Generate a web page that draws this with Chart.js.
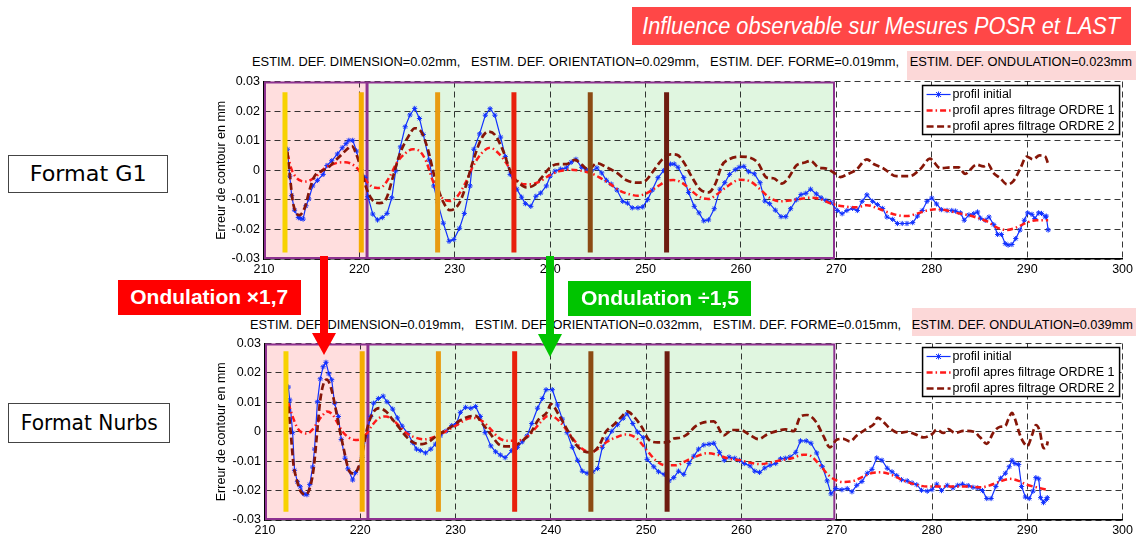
<!DOCTYPE html>
<html>
<head>
<meta charset="utf-8">
<script src="https://cdn.jsdelivr.net/npm/chart.js@4.4.0/dist/chart.umd.min.js"></script>
<style>
    body { margin: 0; width: 1136px; height: 536px; position: relative; overflow: hidden; background: #fff; font-family: "Liberation Sans", Arial, sans-serif; }
    .abs { position: absolute; }
    .box { position: absolute; display: flex; align-items: center; justify-content: center; white-space: nowrap; }
    .fit { display: inline-block; white-space: pre; transform-origin: left center; }
    .tline { position: absolute; font-size: 12.5px; color: #000; white-space: pre; transform-origin: left center; }
    .hl { position: absolute; background: #fcd8d8; }
    .shaft { position: absolute; width: 8px; }
    .head { position: absolute; width: 0; height: 0; border-left: 12px solid transparent; border-right: 12px solid transparent; }
</style>
</head>
<body>

<div class="hl" style="left:907px;top:51px;width:229px;height:29px"></div>
<div class="hl" style="left:912px;top:308px;width:224px;height:28px"></div>

<div class="abs" style="left:205px;top:70px"><canvas id="chartG1" width="931" height="211"></canvas></div>
<div class="abs" style="left:205px;top:332px"><canvas id="chartNurbs" width="931" height="210"></canvas></div>

<div id="titleG1" class="tline" style="left:252px;top:55px">ESTIM. DEF. DIMENSION=0.02mm,   ESTIM. DEF. ORIENTATION=0.029mm,   ESTIM. DEF. FORME=0.019mm,   ESTIM. DEF. ONDULATION=0.023mm</div>
<div id="titleNurbs" class="tline" style="left:250px;top:318px">ESTIM. DEF. DIMENSION=0.019mm,   ESTIM. DEF. ORIENTATION=0.032mm,   ESTIM. DEF. FORME=0.015mm,   ESTIM. DEF. ONDULATION=0.039mm</div>

<div class="box" style="left:632px;top:7px;width:499px;height:38px;background:#ff4747">
    <span id="bigTitle" class="fit" style="color:#fff;font-style:italic;font-size:24px;transform-origin:center center">Influence observable sur Mesures POSR et LAST</span>
</div>

<div class="box" style="left:8px;top:155px;width:158px;height:36px;border:1px solid #444">
    <span id="fmtG1" class="fit" style="font-family:'DejaVu Sans';font-size:21px;transform-origin:center center">Format G1</span>
</div>
<div class="box" style="left:8px;top:403px;width:160px;height:38px;border:1px solid #444">
    <span id="fmtNurbs" class="fit" style="font-family:'DejaVu Sans';font-size:21px;transform-origin:center center">Format Nurbs</span>
</div>

<div class="box" style="left:118px;top:280px;width:183px;height:35px;background:#ff0000">
    <span id="ondRed" class="fit" style="color:#fff;font-weight:bold;font-size:20px;transform-origin:center center">Ondulation ×1,7</span>
</div>
<div class="box" style="left:568px;top:281px;width:183px;height:35px;background:#00c400">
    <span id="ondGreen" class="fit" style="color:#fff;font-weight:bold;font-size:20px;transform-origin:center center">Ondulation ÷1,5</span>
</div>

<div class="shaft" style="left:320px;top:256px;height:78px;background:#ff0000"></div>
<div class="head" style="left:312px;top:333px;border-top:22px solid #ff0000"></div>
<div class="shaft" style="left:546px;top:256px;height:79px;background:#00c400"></div>
<div class="head" style="left:538px;top:334px;border-top:23px solid #00c400"></div>

<script>
    // ---- data ----
    var xTicks = [210, 220, 230, 240, 250, 260, 270, 280, 290, 300];
    var yTicks = [-0.03, -0.02, -0.01, 0, 0.01, 0.02, 0.03];
    var legendLabels = ["profil initial", "profil apres filtrage ORDRE 1", "profil apres filtrage ORDRE 2"];

    // filter zones (pink, green) and the coloured markers
    var zoneEdges = [210, 220.75, 269.75];
    var markerX = [212.2, 220.2, 228.2, 236.2, 244.2, 252.2];

    // Format G1
    var g1Init = [[212.45,0.0071],[212.7,-0.002],[212.9,-0.0086],[213.2,-0.0135],[213.6,-0.016],[213.85,-0.0163],[214.1,-0.0165],[214.4,-0.012],[214.7,-0.0097],[215.1,-0.0053],[215.6,-0.0034],[216.2,-0.0014],[216.6,0.0016],[217.1,0.0032],[217.7,0.0055],[218.2,0.0076],[218.6,0.009],[218.9,0.0101],[219.3,0.0101],[219.7,0.0065],[220.2,0.0002],[220.6,-0.0025],[220.9,-0.0089],[221.4,-0.0148],[221.9,-0.0168],[222.4,-0.016],[222.9,-0.0146],[223.4,-0.0093],[223.8,-0.0003],[224.3,0.0079],[224.8,0.0147],[225.3,0.0187],[225.8,0.0209],[226.3,0.0175],[226.7,0.0121],[227.3,0.0035],[227.8,-0.0053],[228.2,-0.0108],[228.8,-0.0179],[229.4,-0.024],[229.9,-0.0234],[230.5,-0.0196],[231.0,-0.0146],[231.6,-0.0053],[232.0,0.0071],[232.6,0.0123],[233.2,0.0186],[233.7,0.0208],[234.2,0.0186],[234.8,0.0112],[235.3,0.0046],[235.8,-0.0014],[236.5,-0.0064],[237.0,-0.0091],[237.4,-0.0113],[237.97,-0.0122],[238.5,-0.0088],[239.0,-0.0077],[239.6,-0.0053],[240.0,-0.002],[240.5,-0.0003],[241.1,0.0004],[241.7,0.0008],[242.2,0.0027],[242.7,0.0037],[243.3,0.001],[243.8,0.0002],[244.3,-0.0003],[244.9,0.0008],[245.4,-0.0009],[245.9,-0.0034],[246.4,-0.0047],[247.0,-0.0067],[247.6,-0.0105],[248.1,-0.0111],[248.6,-0.0127],[249.2,-0.0127],[249.7,-0.0124],[250.2,-0.01],[250.7,-0.0067],[251.3,-0.0025],[251.9,-0.0001],[252.6,0.0021],[253.0,0.0021],[253.4,0.001],[254.0,-0.0025],[254.5,-0.0075],[255.1,-0.0122],[255.6,-0.0144],[256.1,-0.0171],[256.6,-0.0168],[257.2,-0.013],[257.8,-0.0064],[258.3,-0.0042],[258.8,-0.0014],[259.4,0.0002],[259.8,0.001],[260.3,0.0013],[260.8,-0.0005],[261.4,-0.0012],[262.0,-0.0042],[262.5,-0.0104],[263.0,-0.0113],[263.6,-0.0135],[264.2,-0.0157],[264.7,-0.0157],[265.2,-0.013],[265.8,-0.01],[266.3,-0.0082],[266.8,-0.0078],[267.3,-0.0064],[267.9,-0.008],[268.4,-0.0093],[268.9,-0.0102],[269.4,-0.0108],[270.1,-0.0136],[270.6,-0.0147],[271.1,-0.0136],[271.7,-0.0129],[272.2,-0.0136],[272.7,-0.0105],[273.2,-0.0083],[273.8,-0.0105],[274.3,-0.0116],[274.85,-0.0129],[275.3,-0.0158],[275.9,-0.0166],[276.4,-0.018],[276.9,-0.018],[277.4,-0.018],[278.0,-0.0177],[278.5,-0.0155],[279.0,-0.0136],[279.5,-0.0105],[280.0,-0.0094],[280.5,-0.0114],[281.0,-0.0133],[281.6,-0.0136],[282.1,-0.0136],[282.5,-0.0138],[283.0,-0.0144],[283.4,-0.0169],[283.9,-0.0151],[284.4,-0.0147],[284.8,-0.0141],[285.1,-0.0162],[285.6,-0.0169],[286.0,-0.0158],[286.5,-0.0184],[286.9,-0.0217],[287.3,-0.0217],[287.7,-0.0248],[288.0,-0.0253],[288.4,-0.0251],[288.8,-0.0231],[289.25,-0.0202],[289.7,-0.0169],[290.05,-0.0144],[290.5,-0.0149],[290.8,-0.0163],[291.2,-0.0144],[291.5,-0.0146],[291.9,-0.0158],[292.0,-0.0155],[292.2,-0.0202]];
    var g1Ord1 = [[212.45,0.0057],[212.9,0.0002],[213.4,-0.0025],[213.9,-0.0036],[214.4,-0.0038],[215.0,-0.0031],[215.7,-0.0014],[216.4,0.0008],[217.1,0.0019],[217.8,0.0026],[218.5,0.0027],[219.2,0.0021],[219.9,0.0002],[220.6,-0.0031],[221.3,-0.0055],[221.9,-0.006],[222.5,-0.0053],[223.2,-0.002],[223.9,0.0024],[224.8,0.0057],[225.6,0.0071],[226.3,0.0065],[227.0,0.003],[227.7,-0.0036],[228.6,-0.0091],[229.5,-0.0104],[230.2,-0.0091],[231.05,-0.0047],[231.9,0.0013],[232.8,0.0057],[233.7,0.0076],[234.5,0.006],[235.4,0.0024],[236.3,-0.0025],[237.2,-0.0047],[238.0,-0.0047],[238.9,-0.0038],[240.0,-0.0016],[241.0,-0.0003],[242.1,0.0002],[243.1,-0.0001],[244.2,-0.0009],[245.2,-0.0025],[246.3,-0.0047],[247.3,-0.0069],[248.4,-0.0082],[249.2,-0.0086],[250.1,-0.0078],[251.2,-0.0056],[252.2,-0.0036],[252.9,-0.0033],[253.8,-0.0042],[254.8,-0.0069],[255.7,-0.0091],[256.6,-0.0097],[257.45,-0.0082],[258.5,-0.0056],[259.9,-0.0032],[261.0,-0.0038],[262.0,-0.0064],[263.0,-0.0093],[264.1,-0.0105],[265.1,-0.0102],[266.2,-0.0097],[267.2,-0.0093],[268.3,-0.0097],[269.3,-0.0111],[270.7,-0.0122],[272.1,-0.0125],[273.2,-0.0118],[274.2,-0.0127],[275.3,-0.0141],[276.3,-0.0151],[277.4,-0.0155],[278.4,-0.0147],[279.5,-0.0136],[280.5,-0.0132],[281.6,-0.0136],[282.6,-0.0144],[283.7,-0.0151],[284.7,-0.016],[285.8,-0.0173],[286.8,-0.0193],[287.85,-0.0202],[288.9,-0.0193],[289.95,-0.0177],[291.0,-0.0169],[292.2,-0.0169]];
    var g1Ord2 = [[212.45,0.0063],[212.7,-0.0014],[213.0,-0.0102],[213.4,-0.0146],[213.7,-0.0152],[214.3,-0.0124],[214.8,-0.0064],[215.3,-0.002],[216.0,-0.0003],[216.7,0.0008],[217.4,0.003],[218.1,0.0052],[218.8,0.0074],[219.2,0.0082],[219.7,0.0052],[220.2,0.0002],[220.7,-0.0058],[221.4,-0.0102],[222.1,-0.0111],[222.8,-0.0097],[223.5,-0.0025],[224.2,0.0052],[225.1,0.0112],[225.8,0.0142],[226.5,0.0129],[227.2,0.0068],[227.9,-0.0025],[228.8,-0.0108],[229.5,-0.0135],[230.4,-0.0115],[231.05,-0.0064],[231.9,0.003],[232.8,0.0107],[233.5,0.0131],[234.2,0.012],[235.1,0.0063],[235.9,-0.0009],[236.8,-0.0045],[237.5,-0.0058],[238.4,-0.0049],[239.1,-0.0025],[240.0,0.001],[240.85,0.0021],[241.7,0.0021],[242.6,0.0035],[243.3,0.0019],[244.0,0.0002],[244.9,0.0024],[245.9,0.001],[247.0,-0.0009],[248.0,-0.0034],[249.1,-0.0042],[249.9,-0.0038],[250.8,-0.0003],[251.7,0.0035],[252.6,0.0054],[253.3,0.0052],[254.0,0.0027],[254.8,-0.002],[255.7,-0.0064],[256.6,-0.0075],[257.3,-0.0047],[258.0,0.0016],[258.8,0.0038],[259.9,0.0046],[260.9,0.0043],[261.8,0.0024],[262.7,-0.0025],[263.4,-0.0027],[264.3,-0.0045],[265.0,-0.0025],[265.8,0.0016],[266.7,0.0026],[267.3,0.0032],[268.1,0.001],[269.0,0.0005],[270.0,-0.0014],[270.4,-0.0023],[271.25,-0.0012],[272.1,0.0002],[273.2,0.0037],[273.9,0.0021],[274.9,0.0007],[276.3,-0.002],[277.7,-0.002],[278.8,0.0004],[279.8,0.0039],[280.9,0.0007],[282.1,0.001],[282.8,0.001],[283.5,-0.0012],[284.7,0.0019],[285.4,0.0013],[285.9,0.0021],[286.45,-0.0009],[287.15,-0.0026],[287.9,-0.0048],[288.55,-0.0037],[289.25,0.0004],[289.95,0.0046],[290.6,0.0037],[291.3,0.005],[291.9,0.0046],[292.2,0.0021]];

    // Format Nurbs
    var nbInit = [[212.45,0.0152],[212.6,0.0108],[212.9,-0.0003],[213.1,-0.0131],[213.4,-0.017],[213.7,-0.0187],[214.1,-0.0212],[214.4,-0.0214],[214.7,-0.0179],[215.0,-0.012],[215.2,-0.0059],[215.5,0.0102],[215.8,0.018],[216.1,0.0221],[216.4,0.0236],[216.7,0.0197],[217.0,0.0177],[217.3,0.0097],[217.7,0.0052],[218.0,-0.0026],[218.4,-0.009],[218.7,-0.0126],[219.2,-0.0164],[219.5,-0.0139],[219.9,-0.0123],[220.2,-0.0087],[220.6,-0.0014],[221.1,0.0052],[221.4,0.0097],[221.9,0.0113],[222.4,0.0121],[222.8,0.0102],[223.4,0.0077],[223.9,0.0047],[224.4,0.0019],[225.0,-0.0006],[225.5,-0.0037],[225.9,-0.0059],[226.3,-0.0064],[226.85,-0.0072],[227.4,-0.0059],[227.9,-0.0042],[228.4,-0.0014],[229.0,0.0002],[229.6,0.0021],[230.1,0.0028],[230.5,0.0066],[231.05,0.0083],[231.6,0.008],[232.1,0.0086],[232.6,0.0052],[233.1,-0.0003],[233.7,-0.0048],[234.2,-0.0068],[234.7,-0.0079],[235.2,-0.0088],[235.9,-0.0064],[236.5,-0.0053],[237.0,-0.0034],[237.5,-0.0014],[238.0,0.0028],[238.6,0.008],[239.1,0.0113],[239.5,0.0143],[240.15,0.0143],[240.7,0.0091],[241.2,0.0043],[241.7,-0.0003],[242.25,-0.0053],[242.8,-0.0097],[243.3,-0.0134],[243.8,-0.0141],[244.4,-0.0136],[244.9,-0.0125],[245.4,-0.0053],[245.9,-0.0025],[246.4,0.0002],[247.0,0.0024],[247.6,0.0046],[248.0,0.0061],[248.6,0.0028],[249.1,-0.0001],[249.7,-0.002],[250.1,-0.0094],[250.8,-0.0119],[251.3,-0.0136],[251.9,-0.0145],[252.4,-0.0167],[252.9,-0.0156],[253.4,-0.0134],[253.95,-0.0145],[254.5,-0.0108],[255.0,-0.0083],[255.5,-0.0059],[256.05,-0.0045],[256.6,-0.0042],[257.1,-0.0039],[257.7,-0.007],[258.2,-0.0097],[258.7,-0.0086],[259.3,-0.009],[259.8,-0.0097],[260.3,-0.0108],[260.9,-0.0116],[261.4,-0.0134],[261.9,-0.0138],[262.45,-0.0123],[263.0,-0.0114],[263.6,-0.0108],[264.1,-0.0092],[264.6,-0.009],[265.1,-0.0086],[265.7,-0.007],[266.2,-0.0031],[266.8,-0.0031],[267.3,-0.0039],[267.9,-0.0072],[268.5,-0.0119],[269.0,-0.0167],[269.4,-0.0211],[269.9,-0.0193],[270.55,-0.0197],[271.1,-0.0193],[271.6,-0.0204],[272.1,-0.0182],[272.65,-0.0169],[273.2,-0.0141],[273.7,-0.0128],[274.2,-0.0089],[274.75,-0.0097],[275.3,-0.0124],[275.8,-0.0136],[276.3,-0.0149],[276.8,-0.0163],[277.4,-0.0167],[277.9,-0.0174],[278.4,-0.018],[278.9,-0.0199],[279.5,-0.0202],[280.0,-0.0197],[280.5,-0.0178],[281.0,-0.02],[281.6,-0.0182],[282.2,-0.0191],[282.7,-0.0182],[283.2,-0.0178],[283.8,-0.0183],[284.3,-0.0189],[284.8,-0.0191],[285.3,-0.02],[285.75,-0.0227],[286.2,-0.0227],[286.7,-0.0186],[287.2,-0.0158],[287.7,-0.0141],[288.1,-0.0119],[288.4,-0.0097],[288.7,-0.0108],[289.1,-0.0111],[289.4,-0.0186],[289.8,-0.0222],[290.2,-0.0227],[290.6,-0.0202],[290.9,-0.0156],[291.2,-0.016],[291.4,-0.0224],[291.7,-0.0241],[292.0,-0.023],[292.1,-0.0224]];
    var nbOrd1 = [[212.45,0.0097],[212.9,0.0052],[213.4,0.0013],[213.9,-0.0003],[214.4,-0.0006],[215.0,0.0008],[215.5,0.0032],[216.0,0.0054],[216.5,0.0069],[217.1,0.0058],[217.6,0.003],[218.1,0.0002],[218.8,-0.002],[219.5,-0.0028],[220.0,-0.0026],[220.6,-0.0009],[221.3,0.0024],[222.0,0.0047],[222.7,0.0052],[223.4,0.0041],[224.1,0.0019],[224.9,-0.0006],[225.8,-0.002],[226.7,-0.0026],[227.55,-0.002],[228.4,-0.0009],[229.3,0.0008],[230.2,0.0024],[231.05,0.0041],[231.9,0.0047],[232.8,0.0036],[233.7,0.0008],[234.5,-0.002],[235.4,-0.0031],[236.3,-0.0031],[237.2,-0.0023],[238.0,-0.0003],[238.9,0.0032],[239.7,0.0054],[240.3,0.0051],[241.0,0.0032],[242.1,-0.0014],[243.1,-0.0053],[244.2,-0.007],[245.05,-0.0056],[245.9,-0.0034],[247.0,-0.0017],[247.8,-0.0009],[248.9,-0.002],[249.9,-0.0056],[251.0,-0.0097],[252.0,-0.0114],[253.1,-0.0114],[254.3,-0.0097],[255.35,-0.0083],[256.4,-0.0073],[257.45,-0.0078],[258.5,-0.009],[259.9,-0.0097],[260.9,-0.0105],[262.0,-0.011],[263.0,-0.0105],[264.1,-0.0097],[265.3,-0.009],[266.5,-0.0078],[267.2,-0.0081],[268.3,-0.0116],[269.3,-0.0152],[270.7,-0.0171],[271.8,-0.0167],[272.8,-0.0152],[273.9,-0.0139],[274.75,-0.0138],[275.8,-0.0147],[276.8,-0.0163],[278.1,-0.0178],[279.5,-0.0186],[280.9,-0.0186],[282.3,-0.0186],[283.7,-0.0186],[285.1,-0.0189],[286.1,-0.0182],[287.15,-0.0169],[288.2,-0.016],[289.1,-0.0167],[289.95,-0.018],[291.0,-0.0189],[292.05,-0.0197]];
    var nbOrd2 = [[212.45,0.0086],[212.7,-0.0003],[213.0,-0.0114],[213.3,-0.0159],[213.7,-0.0201],[214.3,-0.0214],[214.7,-0.0192],[215.1,-0.0126],[215.5,0.0008],[215.8,0.0108],[216.3,0.0174],[216.5,0.0177],[216.9,0.0152],[217.3,0.0097],[217.8,0.0013],[218.3,-0.0064],[218.8,-0.0131],[219.3,-0.0142],[219.9,-0.0114],[220.3,-0.0059],[220.7,0.0008],[221.3,0.0063],[222.0,0.008],[222.7,0.0069],[223.4,0.0041],[224.1,0.0013],[224.75,-0.0014],[225.6,-0.0037],[226.5,-0.0042],[227.2,-0.0034],[227.9,-0.0017],[228.8,0.0002],[229.65,0.0019],[230.5,0.0039],[231.4,0.0052],[232.1,0.0054],[232.8,0.0028],[233.7,-0.0009],[234.5,-0.0042],[235.4,-0.005],[236.3,-0.0046],[237.2,-0.0026],[237.9,-0.0003],[238.7,0.0041],[239.6,0.0066],[240.0,0.0094],[240.85,0.0057],[241.7,0.0008],[242.6,-0.0042],[243.5,-0.0067],[244.2,-0.007],[245.05,-0.0048],[245.75,-0.0001],[246.6,0.0024],[247.5,0.0054],[248.0,0.0069],[248.7,0.0052],[249.6,0.0013],[250.3,-0.0028],[251.2,-0.0036],[252.2,-0.0036],[252.9,-0.0023],[253.6,-0.002],[254.3,-0.0009],[255.2,0.0019],[256.05,0.0032],[257.1,0.0035],[258.15,-0.0012],[259.0,0.0006],[259.9,0.0006],[260.8,-0.0009],[261.8,-0.0025],[262.7,-0.0009],[263.7,0.0002],[264.6,0.0008],[265.5,0.0002],[266.2,0.0052],[266.9,0.0057],[267.8,0.0035],[268.6,-0.0014],[269.3,-0.0053],[270.0,-0.0027],[270.7,-0.0024],[271.4,-0.0033],[272.1,-0.0013],[273.2,0.0011],[273.9,0.0026],[274.3,0.0048],[274.9,0.0033],[275.6,0.0011],[276.5,-0.0004],[277.4,0],[278.2,-0.0008],[279.1,-0.0019],[280.0,-0.0008],[280.5,0.0007],[281.2,-0.0004],[281.7,0.0009],[282.4,-0.0004],[283.3,0.0003],[284.4,0],[285.05,-0.0019],[285.75,-0.0041],[286.45,-0.0002],[287.15,0.0017],[287.7,0.002],[288.0,0.0042],[288.4,0.0064],[288.7,0.0044],[289.2,-0.0008],[289.6,-0.0036],[290.0,-0.0049],[290.5,-0.0011],[290.9,0.0023],[291.3,0.0003],[291.7,-0.0056],[292.0,-0.0052],[292.15,-0.0033]];

    // ---- styles ----
    var FONT = "'Liberation Sans', Arial, sans-serif";
    var zoneFills = ["#ffdede", "#e0f6e0"];
    var zoneBorder = "#8e3290";
    var markerColors = ["#f7d200", "#f5ad00", "#e89b12", "#e8200c", "#8c4b14", "#6e1c10"];
    var blue = "#1030ff", red = "#ff1a1a", darkRed = "#861608";

    Chart.defaults.font.family = FONT;
    Chart.defaults.font.size = 12.5;
    Chart.defaults.color = "#000";

    function toPoints(list) {
        return list.map(function (p) { return { x: p[0], y: p[1] }; });
    }

    var decorPlugin = {
        id: "decor",
        beforeDraw: function (chart) {
            var ctx = chart.ctx, a = chart.chartArea, xs = chart.scales.x;
            ctx.save();
            for (var i = 0; i < zoneFills.length; i++) {
                var l = xs.getPixelForValue(zoneEdges[i]), r = xs.getPixelForValue(zoneEdges[i + 1]);
                ctx.fillStyle = zoneFills[i];
                ctx.fillRect(l, a.top, r - l, a.bottom - a.top);
            }
            ctx.restore();
        },
        beforeDatasetsDraw: function (chart) {
            var ctx = chart.ctx, a = chart.chartArea, xs = chart.scales.x;
            ctx.save();
            ctx.strokeStyle = zoneBorder;
            ctx.lineWidth = 2;
            for (var i = 0; i < zoneFills.length; i++) {
                var l = xs.getPixelForValue(zoneEdges[i]), r = xs.getPixelForValue(zoneEdges[i + 1]);
                ctx.strokeRect(l + 1, a.top + 1, r - l - 1, a.bottom - a.top - 2);
            }
            ctx.restore();
        },
        afterDatasetsDraw: function (chart, args, opts) {
            var ctx = chart.ctx, xs = chart.scales.x, ys = chart.scales.y;
            ctx.save();
            ctx.lineWidth = 5;
            for (var i = 0; i < markerX.length; i++) {
                var px = xs.getPixelForValue(markerX[i]);
                ctx.strokeStyle = markerColors[i];
                ctx.beginPath();
                ctx.moveTo(px, ys.getPixelForValue(opts.barTop));
                ctx.lineTo(px, ys.getPixelForValue(opts.barBottom));
                ctx.stroke();
            }
            ctx.restore();
        },
        afterDraw: function (chart) {
            // legend box in the upper right corner of the axes
            var ctx = chart.ctx, a = chart.chartArea;
            var x0 = a.right - 200, y0 = a.top + 4, w = 197, h = 49;
            var styles = [
                { color: blue, width: 1.2, dash: [] },
                { color: red, width: 2.5, dash: [6, 3, 1.5, 3] },
                { color: darkRed, width: 2.6, dash: [7, 3.5] }
            ];
            ctx.save();
            ctx.fillStyle = "#fff";
            ctx.fillRect(x0, y0, w, h);
            ctx.strokeStyle = "#000";
            ctx.lineWidth = 1.5;
            ctx.strokeRect(x0, y0, w, h);
            ctx.font = "12.5px " + FONT;
            ctx.textBaseline = "middle";
            for (var i = 0; i < legendLabels.length; i++) {
                var yy = y0 + 9 + i * 16;
                var s = styles[i];
                ctx.setLineDash(s.dash);
                ctx.strokeStyle = s.color;
                ctx.lineWidth = s.width;
                ctx.beginPath();
                ctx.moveTo(x0 + 4, yy);
                ctx.lineTo(x0 + 28, yy);
                ctx.stroke();
                if (i === 0) {
                    ctx.setLineDash([]);
                    ctx.lineWidth = 1;
                    ctx.beginPath();
                    ctx.moveTo(x0 + 13.5, yy - 2.5); ctx.lineTo(x0 + 18.5, yy + 2.5);
                    ctx.moveTo(x0 + 13.5, yy + 2.5); ctx.lineTo(x0 + 18.5, yy - 2.5);
                    ctx.moveTo(x0 + 16, yy - 3); ctx.lineTo(x0 + 16, yy + 3);
                    ctx.stroke();
                }
                ctx.fillStyle = "#000";
                ctx.fillText(legendLabels[i], x0 + 30, yy + 0.5);
            }
            ctx.restore();
        }
    };

    function buildChart(canvasId, init, ord1, ord2, yAxisWidth, barTop, barBottom) {
        var canvas = document.getElementById(canvasId);
        return new Chart(canvas, {
            type: "line",
            data: {
                datasets: [{
                    label: legendLabels[0],
                    data: toPoints(init),
                    borderColor: blue,
                    backgroundColor: blue,
                    borderWidth: 1.2,
                    pointStyle: "star",
                    pointRadius: 2.6,
                    pointBorderWidth: 1,
                    pointBorderColor: blue,
                    tension: 0,
                    order: 3
                }, {
                    label: legendLabels[1],
                    data: toPoints(ord1),
                    borderColor: red,
                    borderWidth: 2.5,
                    borderDash: [6, 3, 1.5, 3],
                    pointRadius: 0,
                    cubicInterpolationMode: "monotone",
                    order: 2
                }, {
                    label: legendLabels[2],
                    data: toPoints(ord2),
                    borderColor: darkRed,
                    borderWidth: 2.7,
                    borderDash: [7, 3.5],
                    pointRadius: 0,
                    cubicInterpolationMode: "monotone",
                    order: 1
                }]
            },
            options: {
                responsive: false,
                animation: false,
                devicePixelRatio: 1,
                layout: { padding: { top: 7, right: 13, left: 0, bottom: 0 } },
                plugins: {
                    legend: { display: false },
                    tooltip: { enabled: false },
                    decor: { barTop: barTop, barBottom: barBottom }
                },
                scales: {
                    x: {
                        type: "linear",
                        min: xTicks[0],
                        max: xTicks[xTicks.length - 1],
                        afterBuildTicks: function (axis) {
                            axis.ticks = xTicks.map(function (v) { return { value: v }; });
                        },
                        afterFit: function (axis) { axis.height = 22; },
                        ticks: { padding: 3, maxRotation: 0, font: { size: 12.5 } },
                        grid: { color: "rgba(0,0,0,0.78)", lineWidth: 1, drawTicks: false },
                        border: { display: true, color: "#000", width: 1.5, dash: [6, 4] }
                    },
                    y: {
                        min: yTicks[0],
                        max: yTicks[yTicks.length - 1],
                        afterBuildTicks: function (axis) {
                            axis.ticks = yTicks.map(function (v) { return { value: v }; });
                        },
                        afterFit: function (axis) { axis.width = yAxisWidth; },
                        ticks: {
                            padding: 4,
                            font: { size: 12.5 },
                            callback: function (v) { return String(Math.round(v * 100) / 100); }
                        },
                        title: {
                            display: true,
                            text: "Erreur de contour en mm",
                            font: { size: 12.5 },
                            padding: { top: 9.5, bottom: 0 }
                        },
                        grid: { color: "rgba(0,0,0,0.78)", lineWidth: 1, drawTicks: false },
                        border: { display: true, color: "#000", width: 1.5, dash: [6, 4] }
                    }
                }
            },
            plugins: [decorPlugin]
        });
    }

    buildChart("chartG1", g1Init, g1Ord1, g1Ord2, 59, 0.0264, -0.0278);
    buildChart("chartNurbs", nbInit, nbOrd1, nbOrd2, 60, 0.0274, -0.0272);

    // stretch the text lines to the widths they have in the picture
    function fitWidth(id, target) {
        var el = document.getElementById(id);
        var w = el.getBoundingClientRect().width;
        if (w > 0) el.style.transform = "scaleX(" + (target / w) + ")";
    }
    fitWidth("titleG1", 880);
    fitWidth("titleNurbs", 883);
    fitWidth("bigTitle", 478);
    fitWidth("ondRed", 158);
    fitWidth("ondGreen", 158);
    fitWidth("fmtG1", 117);
    fitWidth("fmtNurbs", 137);
</script>
</body>
</html>
